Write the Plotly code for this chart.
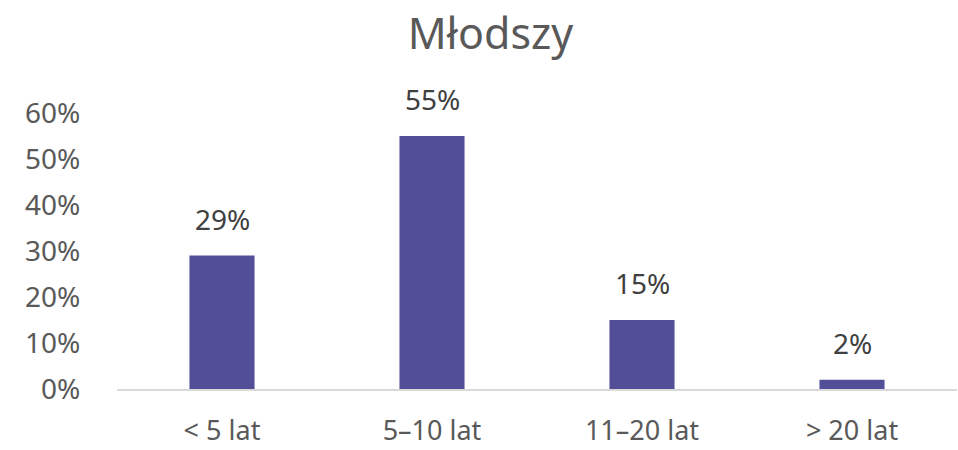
import plotly.graph_objects as go

categories = ["< 5 lat", "5–10 lat", "11–20 lat", "> 20 lat"]
values = [0.29, 0.55, 0.15, 0.02]
labels = ["29%", "55%", "15%", "2%"]
tick_vals = [0, 0.1, 0.2, 0.3, 0.4, 0.5, 0.6]
tick_text = ["0%", "10%", "20%", "30%", "40%", "50%", "60%"]

fig = go.Figure(go.Bar(
    x=categories, y=values,
    marker=dict(color="#524F98", line=dict(width=0)),
    width=0.31, cliponaxis=False,
))
for c, v, t in zip(categories, values, labels):
    fig.add_annotation(x=c, y=v, text=t, showarrow=False, yanchor="bottom",
                       yshift=16, font=dict(size=28, color="#404040"))

fig.update_layout(
    width=958, height=450,
    margin=dict(l=117, r=1, t=113, b=61),
    paper_bgcolor="white", plot_bgcolor="white",
    font=dict(family="Noto Sans", color="#595959"),
    title=dict(text="Młodszy", x=0.512, xanchor="center", y=0.925, yanchor="middle",
               font=dict(size=43, color="#595959")),
    showlegend=False,
)
fig.update_xaxes(showgrid=False, showline=True, linecolor="#D9D9D9", linewidth=2,
                 ticks="outside", ticklen=17, tickcolor="rgba(0,0,0,0)",
                 tickfont=dict(size=27, color="#595959"), automargin=False)
fig.update_yaxes(range=[0, 0.6], tickvals=tick_vals, ticktext=tick_text, showgrid=False,
                 zeroline=False, showline=False, ticks="outside", ticklen=30,
                 tickcolor="rgba(0,0,0,0)", tickfont=dict(size=28, color="#595959"),
                 automargin=False)
fig.write_html("out.html", config={"displayModeBar": False},
               post_script="document.body.style.margin='0';")
